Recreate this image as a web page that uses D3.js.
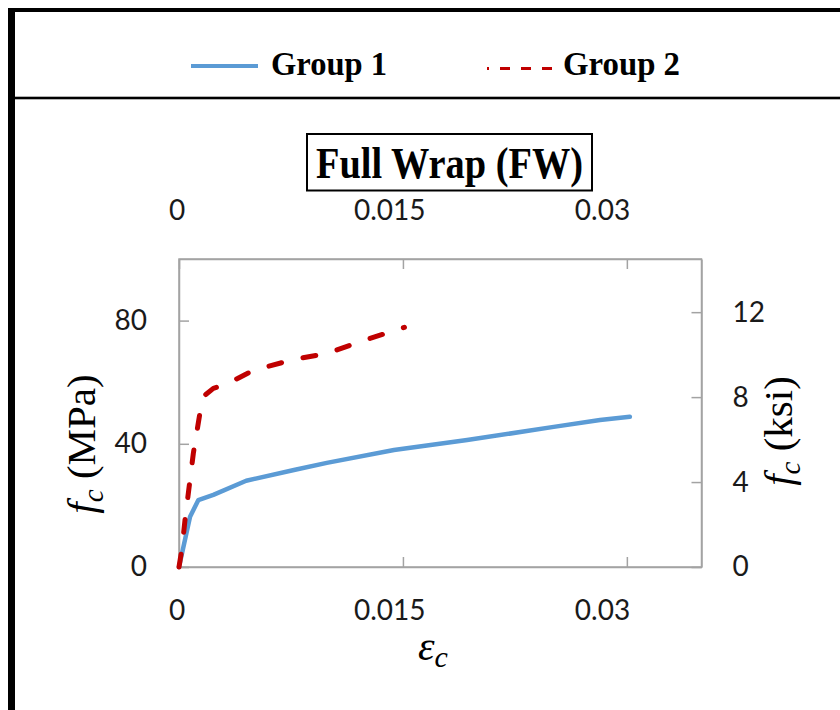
<!DOCTYPE html>
<html>
<head>
<meta charset="utf-8">
<script src="https://cdn.jsdelivr.net/npm/d3@7"></script>
<style>
  html, body { margin: 0; padding: 0; background: #fff; }
  svg { display: block; }
</style>
</head>
<body>
<svg id="chart" width="840" height="710"></svg>
<script>
// ---- data ----
const seriesNames = ["Group 1", "Group 2"];
const strainG1 = [0, 0.00074, 0.00129, 0.0023, 0.0045, 0.0077, 0.0099, 0.0144, 0.0193, 0.0251, 0.0282, 0.0302];
const stressG1 = [0, 16.3, 21.7, 23.4, 28.0, 31.5, 33.8, 38.0, 41.2, 45.5, 47.7, 48.8];
const strainG2 = [0, 0.0002, 0.0004, 0.00096, 0.0014, 0.00174, 0.0023, 0.0032, 0.005, 0.0077, 0.0099, 0.0121, 0.0151];
const stressG2 = [0, 6.0, 15.2, 36.9, 49.9, 55.8, 58.0, 59.4, 63.9, 67.4, 69.3, 73.1, 77.8];
const xTicks = [0, 0.015, 0.03];
const yTicksMPa = [0, 40, 80];
const yTicksKsi = [0, 4, 8, 12];
const titleText = "Full Wrap (FW)";
const MPA_PER_KSI = 6.895;

const svg = d3.select("#chart");

// ---- frame ----
svg.append("rect").attr("x", 8).attr("y", 8).attr("width", 7).attr("height", 702).attr("fill", "#000");
svg.append("rect").attr("x", 8).attr("y", 8).attr("width", 832).attr("height", 4).attr("fill", "#000");
svg.append("rect").attr("x", 15).attr("y", 96.7).attr("width", 825).attr("height", 2.6).attr("fill", "#000");

// ---- legend ----
const serif = "'Liberation Serif', 'Times New Roman', serif";
const leg = svg.append("g");
leg.append("line").attr("x1", 191).attr("x2", 258).attr("y1", 66).attr("y2", 66)
  .attr("stroke", "#5B9BD5").attr("stroke-width", 4);
leg.append("text").attr("x", 271).attr("y", 75).text(seriesNames[0])
  .attr("font-family", serif).attr("font-weight", "bold")
  .attr("font-size", 34).attr("textLength", 116).attr("lengthAdjust", "spacingAndGlyphs");
leg.append("line").attr("x1", 487).attr("x2", 553).attr("y1", 68.5).attr("y2", 68.5)
  .attr("stroke", "#C00000").attr("stroke-width", 3)
  .attr("stroke-dasharray", "10 11").attr("stroke-dashoffset", 8);
leg.append("text").attr("x", 563).attr("y", 75).text(seriesNames[1])
  .attr("font-family", serif).attr("font-weight", "bold")
  .attr("font-size", 34).attr("textLength", 117).attr("lengthAdjust", "spacingAndGlyphs");

// ---- scales ----
const plot = { left: 179, right: 701.5, top: 259, bottom: 567 };
const x = d3.scaleLinear().domain([0, 0.035]).range([plot.left, plot.right]);
const y = d3.scaleLinear().domain([0, 100]).range([plot.bottom, plot.top]);
const yK = d3.scaleLinear().domain([0, 100 / MPA_PER_KSI]).range([plot.bottom, plot.top]);
// tick labels in the reference sit on a slightly compressed grid
const xLab = d3.scaleLinear().domain([0, 0.03]).range([177, 602.5]);

const axisColor = "#A3A3A3";
const tickFont = "Lato, 'Open Sans', sans-serif";

// ---- plot border ----
svg.append("rect").attr("x", plot.left).attr("y", plot.top)
  .attr("width", plot.right - plot.left).attr("height", plot.bottom - plot.top)
  .attr("fill", "none").attr("stroke", axisColor).attr("stroke-width", 1.5);

function styleAxis(g) {
  g.select(".domain").attr("stroke", axisColor).attr("stroke-width", 1.5);
  g.selectAll(".tick line").attr("stroke", axisColor).attr("stroke-width", 1.5);
  g.selectAll(".tick text").attr("font-family", tickFont).attr("font-size", 28).attr("fill", "#1a1a1a");
}

// bottom axis (ticks inward)
svg.append("g").attr("transform", `translate(0,${plot.bottom})`)
  .call(d3.axisBottom(x).tickValues(xTicks).tickSizeInner(-10).tickSizeOuter(0).tickFormat(""))
  .call(styleAxis);
// top axis
svg.append("g").attr("transform", `translate(0,${plot.top})`)
  .call(d3.axisTop(x).tickValues(xTicks).tickSizeInner(-10).tickSizeOuter(0).tickFormat(""))
  .call(styleAxis);
// left axis MPa
svg.append("g").attr("transform", `translate(${plot.left},0)`)
  .call(d3.axisLeft(y).tickValues(yTicksMPa).tickSizeInner(-10).tickSizeOuter(0).tickPadding(32).tickFormat(d3.format("d")))
  .call(styleAxis);
// right axis ksi
svg.append("g").attr("transform", `translate(${plot.right},0)`)
  .call(d3.axisRight(yK).tickValues(yTicksKsi).tickSizeInner(-10).tickSizeOuter(0).tickPadding(31).tickFormat(d3.format("d")))
  .call(styleAxis);

// x tick labels (top and bottom)
const fmtX = v => v === 0 ? "0" : String(v);
svg.append("g").selectAll("text").data(xTicks).join("text")
  .attr("x", d => xLab(d)).attr("y", 620).attr("text-anchor", "middle")
  .attr("font-family", tickFont).attr("font-size", 28).attr("fill", "#1a1a1a").text(fmtX);
svg.append("g").selectAll("text").data(xTicks).join("text")
  .attr("x", d => xLab(d)).attr("y", 220).attr("text-anchor", "middle")
  .attr("font-family", tickFont).attr("font-size", 28).attr("fill", "#1a1a1a").text(fmtX);

// ---- lines ----
const line = d3.line().x(d => x(d[0])).y(d => y(d[1]));
const g1 = d3.zip(strainG1, stressG1);
const g2 = d3.zip(strainG2, stressG2);
svg.append("path").datum(g1).attr("d", line).attr("fill", "none")
  .attr("stroke", "#5B9BD5").attr("stroke-width", 4.5).attr("stroke-linecap", "round").attr("stroke-linejoin", "round");
svg.append("path").datum(g2).attr("d", line).attr("fill", "none")
  .attr("stroke", "#C00000").attr("stroke-width", 5).attr("stroke-linecap", "round").attr("stroke-linejoin", "round")
  .attr("stroke-dasharray", "13 22");

// ---- title ----
svg.append("rect").attr("x", 307).attr("y", 134).attr("width", 285).attr("height", 56.5)
  .attr("fill", "#fff").attr("stroke", "#000").attr("stroke-width", 2);
svg.append("text").attr("x", 449.5).attr("y", 178).attr("text-anchor", "middle")
  .attr("font-family", serif).attr("font-weight", "bold")
  .attr("font-size", 45).attr("textLength", 267).attr("lengthAdjust", "spacingAndGlyphs").text(titleText);

// ---- axis titles ----
const yl = svg.append("text").attr("transform", "translate(95,444) rotate(-90)")
  .attr("text-anchor", "middle").attr("font-family", serif).attr("font-size", 41).attr("fill", "#000");
yl.append("tspan").attr("font-style", "italic").text("f");
yl.append("tspan").attr("font-style", "italic").attr("font-size", 29).attr("dy", 8).text("c");
yl.append("tspan").attr("dy", -8).text(" (MPa)");

const yr = svg.append("text").attr("transform", "translate(792,431) rotate(-90)")
  .attr("text-anchor", "middle").attr("font-family", serif).attr("font-size", 41).attr("fill", "#000");
yr.append("tspan").attr("font-style", "italic").text("f");
yr.append("tspan").attr("font-style", "italic").attr("font-size", 29).attr("dy", 8).text("c");
yr.append("tspan").attr("dy", -8).text(" (ksi)");

const xl = svg.append("text").attr("x", 433).attr("y", 660).attr("text-anchor", "middle")
  .attr("font-family", serif).attr("font-size", 42).attr("font-style", "italic").attr("fill", "#000");
xl.append("tspan").text("ε");
xl.append("tspan").attr("font-size", 30).attr("dy", 7).text("c");
</script>
</body>
</html>
